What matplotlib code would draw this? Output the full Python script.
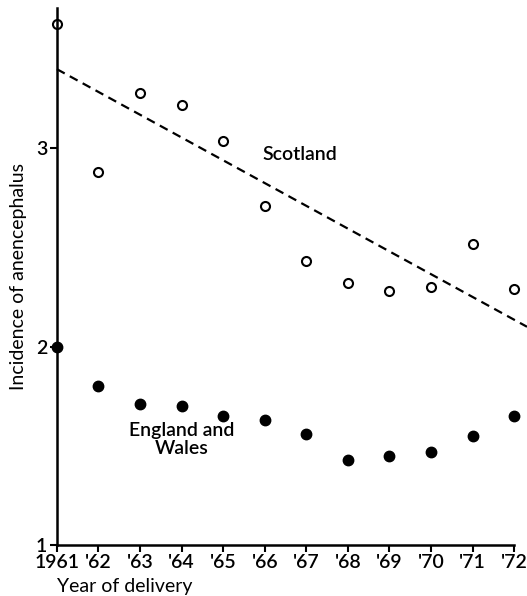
import numpy as np
import matplotlib.pyplot as plt

plt.rcParams['font.family'] = ['Lato', 'DejaVu Sans']
plt.rcParams['font.weight'] = 'semibold'

# Datos
anios = np.arange(1961, 1973)
etiquetas_x = ['1961', "'62", "'63", "'64", "'65", "'66", "'67", "'68", "'69", "'70", "'71", "'72"]
escocia = [3.63, 2.88, 3.28, 3.22, 3.04, 2.71, 2.43, 2.32, 2.28, 2.30, 2.52, 2.29]
inglaterra_gales = [2.00, 1.80, 1.71, 1.70, 1.65, 1.63, 1.56, 1.43, 1.45, 1.47, 1.55, 1.65]

# Recta de tendencia (Escocia)
tendencia_anios = [1961, 1972.31]
tendencia_valores = [3.40, 2.10]

fig = plt.figure(figsize=(5.27, 5.96), dpi=100)
ax = fig.add_axes([0.108, 0.086, 0.892, 0.901])

ax.plot(tendencia_anios, tendencia_valores, color='black', lw=1.6,
        linestyle=(0, (4, 2.6)), clip_on=False)
ax.plot(anios, escocia, 'o', mfc='white', mec='black', mew=1.5, ms=6.5, clip_on=False)
ax.plot(anios, inglaterra_gales, 'o', color='black', ms=7.5, clip_on=False)

ax.text(1965.95, 2.97, 'Scotland', fontsize=14, ha='left', va='center')
ax.text(1964.0, 1.53, 'England and\nWales', fontsize=14, ha='center', va='center',
        linespacing=1.1)

ax.set_xlim(1961, 1972.31)
ax.set_ylim(1, 3.71)
ax.set_xticks(anios)
ax.set_xticklabels(etiquetas_x)
ax.set_yticks([1, 2, 3])
ax.set_yticklabels(['1', '2', '3'])
ax.tick_params(labelsize=14, width=1.5, length=5, direction='out', pad=2)

for lado in ['top', 'right']:
    ax.spines[lado].set_visible(False)
for lado in ['left', 'bottom']:
    ax.spines[lado].set_linewidth(1.8)
ax.spines['bottom'].set_bounds(1961, 1972)

ax.set_ylabel('Incidence of anencephalus', fontsize=14, labelpad=6)
ax.set_xlabel('Year of delivery', fontsize=14)
ax.xaxis.set_label_coords(0.0, -0.062)
ax.xaxis.label.set_ha('left')

fig.savefig('out.png', dpi=100)
